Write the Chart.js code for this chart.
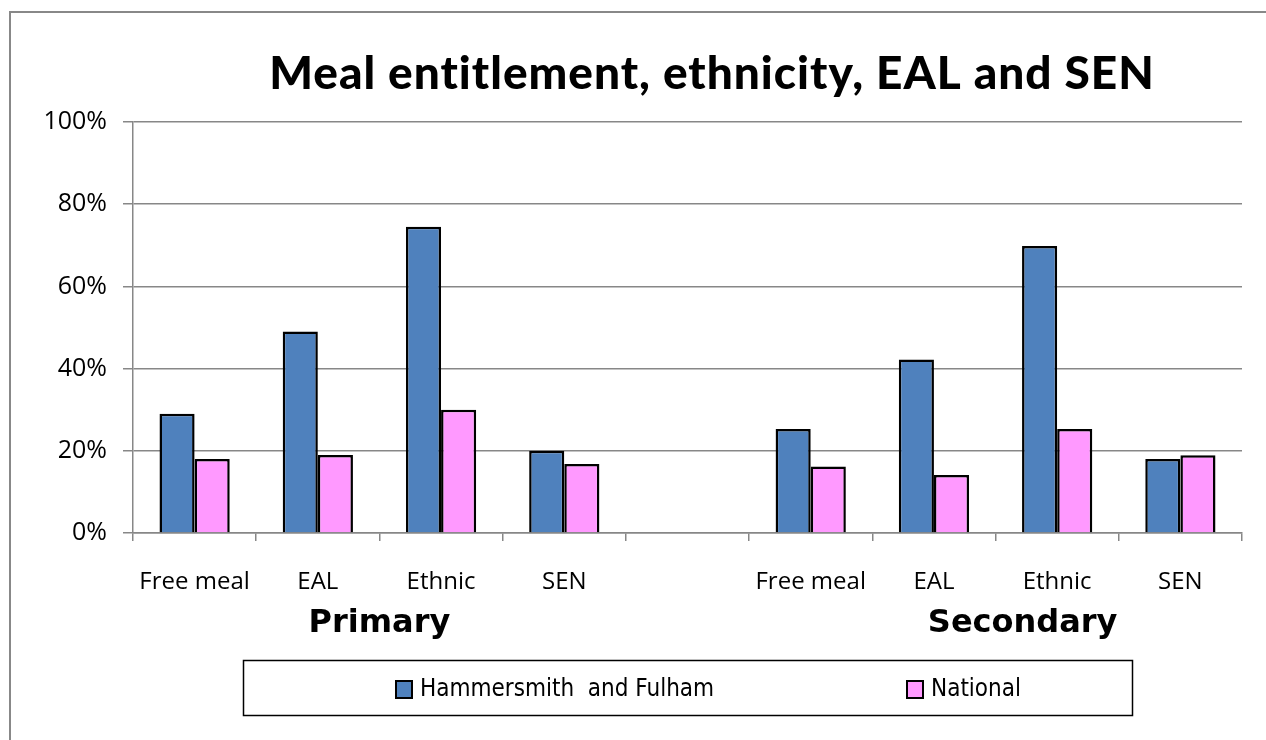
<!DOCTYPE html>
<html>
<head>
<meta charset="utf-8">
<script src="https://cdn.jsdelivr.net/npm/chart.js@4"></script>
<style>
  html, body { margin: 0; padding: 0; background: #fff; }
  #wrap { position: relative; width: 1266px; height: 740px; }
  #frame { position: absolute; left: 9px; top: 11px; right: -10px; bottom: -10px; border-top: 2px solid #888; border-left: 2px solid #888; pointer-events: none; }
</style>
</head>
<body>
<div id="wrap">
  <canvas id="chart" width="1266" height="740"></canvas>
  <div id="frame"></div>
</div>
<script>
const categories = ['Free meal', 'EAL', 'Ethnic', 'SEN', '', 'Free meal', 'EAL', 'Ethnic', 'SEN'];
const hammersmith = [29, 49, 74.5, 20, null, 25.3, 42.2, 69.8, 18];
const national = [18, 19, 30, 16.8, null, 16.2, 14.1, 25.3, 18.9];
const y_ticks = [0, 20, 40, 60, 80, 100];
const group_labels = ['Primary', 'Secondary'];
const title = 'Meal entitlement, ethnicity, EAL and SEN';

// where the group captions sit, in category index units
const group_pos = [1.5, 6.72];

const grey = '#878787';

const extras = {
  id: 'extras',
  afterDraw(chart) {
    let ctx = chart.ctx;
    let x = chart.scales.x;
    ctx.save();
    ctx.fillStyle = '#000';

    // title, a bit right of the canvas centre like the original
    ctx.font = '900 46px Lato';
    ctx.letterSpacing = '1px';
    ctx.textAlign = 'center';
    ctx.textBaseline = 'alphabetic';
    ctx.fillText(title, 712, 89);
    ctx.letterSpacing = '0px';

    ctx.font = 'bold 32px "DejaVu Sans"';
    group_labels.forEach((g, i) => {
      ctx.fillText(g, x.getPixelForValue(group_pos[i]), 632);
    });

    // legend box
    let area = chart.chartArea;
    let mid = (area.left + area.right) / 2;
    ctx.lineWidth = 1.5;
    ctx.strokeStyle = '#000';
    ctx.strokeRect(mid - 444, 660.5, 889, 55);
    ctx.font = '24px "DejaVu Sans Condensed", "Open Sans"';
    ctx.textAlign = 'left';
    ctx.textBaseline = 'middle';
    let starts = [396, 907];
    chart.data.datasets.forEach((ds, i) => {
      ctx.fillStyle = ds.backgroundColor;
      ctx.fillRect(starts[i], 681, 16, 17);
      ctx.lineWidth = 2;
      ctx.strokeRect(starts[i], 681, 16, 17);
      ctx.fillStyle = '#000';
      ctx.fillText(ds.label, starts[i] + 24, 690);
    });
    ctx.restore();
  }
};

new Chart(document.getElementById('chart'), {
  type: 'bar',
  data: {
    labels: categories,
    datasets: [
      { label: 'Hammersmith  and Fulham', data: hammersmith, backgroundColor: '#4f81bd', borderColor: '#000', borderWidth: 2.5 },
      { label: 'National', data: national, backgroundColor: '#ff99ff', borderColor: '#000', borderWidth: 2.5 }
    ]
  },
  options: {
    responsive: false,
    animation: false,
    layout: { padding: { top: 122, right: 24, bottom: 0, left: 0 } },
    datasets: { bar: { categoryPercentage: 0.57, barPercentage: 1.0 } },
    plugins: {
      legend: { display: false },
      tooltip: { enabled: false },
      title: { display: false }
    },
    scales: {
      x: {
        afterFit: s => { s.height = 207; },
        grid: { offset: true, drawOnChartArea: false, color: grey, lineWidth: 1.5, tickLength: 8 },
        border: { color: grey, width: 1.5 },
        ticks: { color: '#000', font: { family: 'Open Sans', size: 24 }, padding: 27, maxRotation: 0, autoSkip: false }
      },
      y: {
        min: 0, max: 100,
        afterFit: s => { s.width = 133; },
        afterBuildTicks: s => { s.ticks = y_ticks.map(v => ({ value: v })); },
        grid: { color: grey, lineWidth: 1.5, tickLength: 10 },
        border: { color: grey, width: 1.5 },
        ticks: { color: '#000', font: { family: 'Open Sans', size: 25 }, padding: 16, callback: v => v + '%' }
      }
    }
  },
  plugins: [extras]
});
</script>
</body>
</html>
